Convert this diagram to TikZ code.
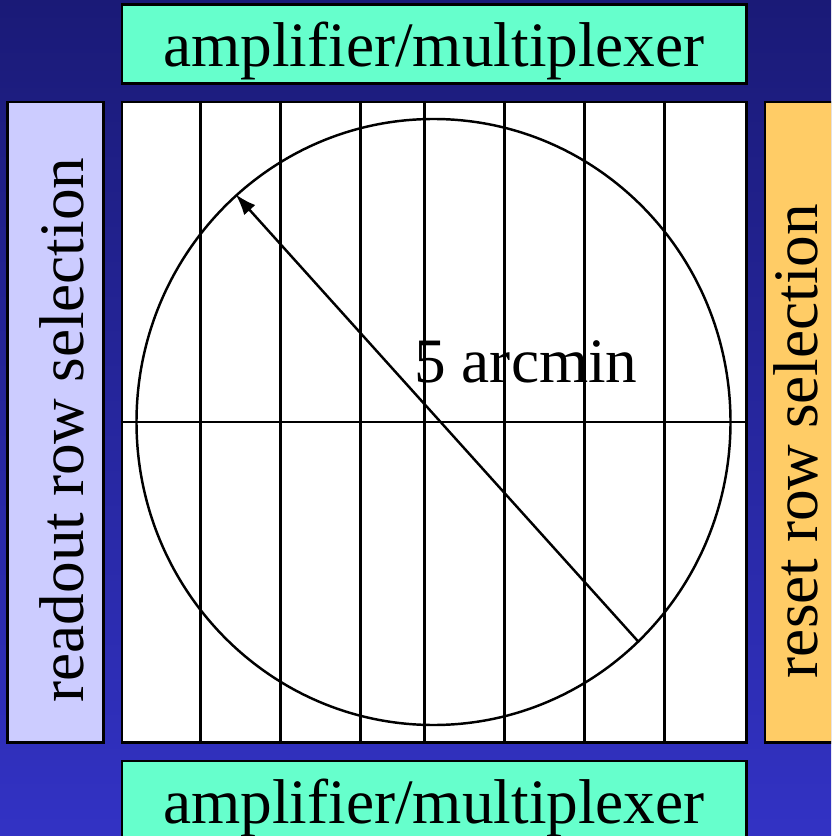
\documentclass[tikz,border=0pt]{standalone}
\usepackage{fontspec}
\setmainfont{Liberation Serif}
\definecolor{navyTop}{HTML}{1A1A77}
\definecolor{navyBottom}{HTML}{3232C4}
\definecolor{muxGreen}{HTML}{66FFCC}
\definecolor{readoutLilac}{HTML}{CCCCFF}
\definecolor{resetOrange}{HTML}{FFCC66}
\usepackage{tikz}
\usetikzlibrary{positioning,shapes.geometric,arrows.meta}

\begin{document}
\begin{tikzpicture}[
                node distance=0.32cm,
                panel/.style={draw=black, line width=1.7pt, inner sep=0pt},
                muxbox/.style={panel, fill=muxGreen, minimum width=12.48cm, minimum height=1.58cm,
                               font=\fontsize{36}{43}\selectfont, text height=26.6pt, text depth=0pt},
                rowbox/.style={panel, minimum width=1.92cm, minimum height=12.8cm},
                rowtext/.style={rotate=90, font=\fontsize{36}{43}\selectfont, inner sep=0pt, text depth=0pt},
                gridline/.style={line width=1.4pt}
            ]
                \path[use as bounding box, top color=navyTop, bottom color=navyBottom] (0,0) rectangle (16.62,-16.72);
                \clip (0,0) rectangle (16.62,-16.72);
                \node[panel, fill=white, minimum width=12.48cm, minimum height=12.8cm] (array) at (8.68,-8.44) {};
                \node[muxbox, above=of array] (muxtop) {amplifier/multiplexer};
                \node[muxbox, below=of array] (muxbot) {amplifier/multiplexer};
                \node[rowbox, fill=readoutLilac, left=of array] (readout) {};
                \node[rowbox, fill=resetOrange, right=of array] (reset) {};
                \node[rowtext] (readouttxt) at ([xshift=0.14cm, yshift=-0.16cm]readout.center) {readout row selection};
                \node[rowtext] (resettxt) at ([xshift=-0.34cm, yshift=-0.38cm]reset.center) {reset row selection};
                \foreach \x in {1.6,3.2,4.8,6.08,7.68,9.28,10.88}
                    \draw[gridline] ([xshift=\x cm]array.north west) -- ([xshift=\x cm]array.south west);
                \draw[gridline] (array.west) -- (array.east);
                \node[ellipse, draw, line width=1.4pt, minimum width=11.88cm, minimum height=12.12cm, inner sep=0pt] (fov) at (8.67,-8.44) {};
                \draw[gridline, -{Latex[length=0.42cm, width=0.3cm]}] (fov.-47.8) -- (fov.131.3);
                \node[font=\fontsize{36}{43}\selectfont] (radius) at (10.52,-7.24) {5 arcmin};
            \end{tikzpicture}
\end{document}
